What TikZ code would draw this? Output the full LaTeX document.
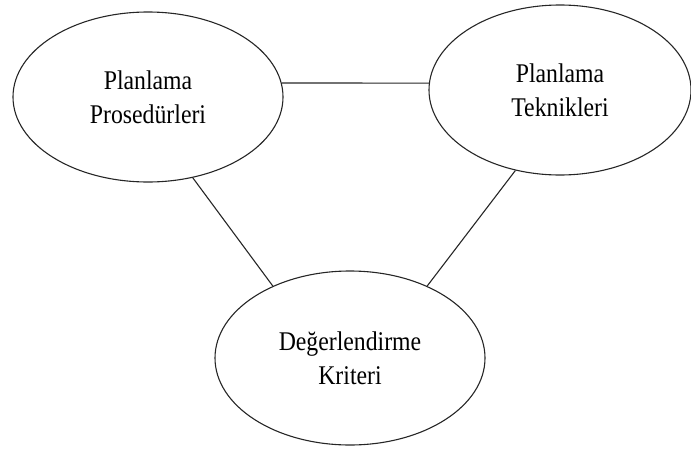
\documentclass[tikz,border=0pt]{standalone}
\usepackage{fontspec}
\setmainfont{Liberation Serif}[FakeStretch=0.88]
\usetikzlibrary{shapes.geometric}
\begin{document}
\begin{tikzpicture}[x=1pt,y=-1pt,
    link/.style={line width=1.1pt,draw=black!85},
    ell/.style={ellipse,draw=black!85,line width=1.1pt,align=center,
      font=\fontsize{27}{34}\selectfont},
    wide/.style={ell,minimum width=270pt,minimum height=170pt},
    narrow/.style={ell,minimum width=262pt,minimum height=170pt}]
  \useasboundingbox (0,0) rectangle (691,450);
  \node[wide] (PP) at (148,97) {Planlama\\Prosedürleri};
  \node[narrow] (PT) at (560,90) {Planlama\\Teknikleri};
  \node[ell,minimum width=270pt,minimum height=174pt] (DK) at (350,358) {Değerlendirme\\Kriteri};
  \draw[link] (PP.6) -- (PT.177);
  \draw[link] (PP.-61.5) -- (DK.137);
  \draw[link] (PT.241.5) -- (DK.43.4);
\end{tikzpicture}
\end{document}
